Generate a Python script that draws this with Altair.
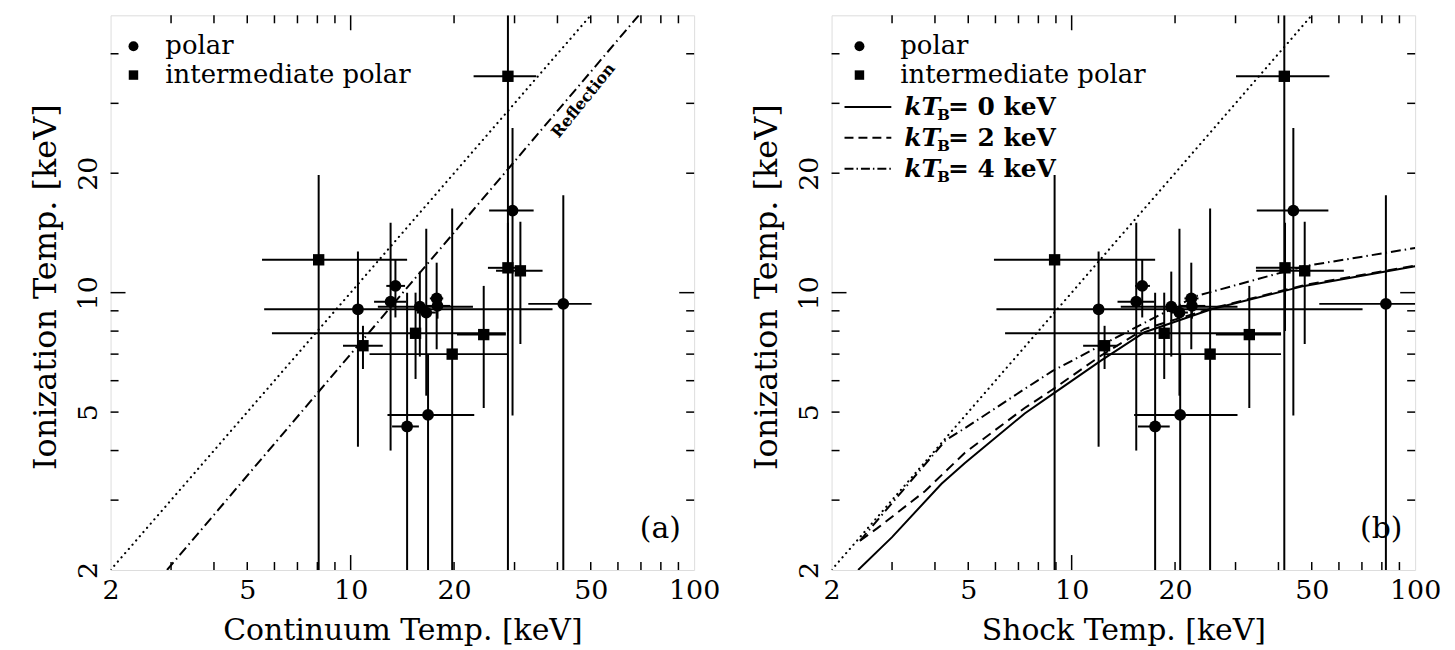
import altair as alt
import pandas as pd

# ---------------- data ----------------
kind = ["IP", "polar", "IP", "polar", "polar", "polar", "polar", "polar", "polar", "IP",
        "IP", "IP", "polar", "polar", "IP", "polar", "IP", "IP", "polar"]
t_ion = [12.1, 9.08, 7.35, 9.49, 10.4, 9.22, 8.91, 9.67, 9.26, 7.9,
         7.0, 7.84, 4.92, 4.6, 35.1, 16.1, 11.55, 11.35, 9.37]
t_ion_lo = [2, 4.09, 6.42, 4.0, 8.66, 6.9, 5.5, 7.2, 8.6, 6.06,
            2, 5.12, 2, 2, 2, 4.9, 8.0, 7.42, 2]
t_ion_hi = [19.8, 12.7, 8.25, 15.0, 12.1, 11.3, 14.5, 11.9, 9.9, 10.0,
            16.3, 10.4, 7.0, 10.0, 50, 26.0, 15.0, 15.1, 17.6]

t_cont = [8.07, 10.5, 10.86, 13.07, 13.5, 15.9, 16.6, 17.8, 17.9, 15.45,
          19.75, 24.4, 16.8, 14.6, 28.7, 29.6, 28.7, 31.2, 41.6]
t_cont_lo = [5.52, 5.6, 9.5, 11.7, 12.7, 12.0, 15.6, 17.0, 16.5, 5.9,
             11.35, 20.4, 12.8, 13.2, 22.8, 25.3, 25.1, 26.5, 32.9]
t_cont_hi = [14.6, 38.7, 12.4, 14.5, 14.4, 22.7, 17.7, 18.6, 19.5, 28.3,
             28.7, 28.3, 22.9, 15.8, 34.7, 34.1, 30.5, 36.2, 50.3]

t_shock = [8.92, 11.98, 12.47, 15.42, 16.05, 19.5, 20.6, 22.3, 22.4, 18.6,
           25.3, 32.9, 20.7, 17.5, 41.6, 44.2, 41.8, 47.7, 82.2]
t_shock_lo = [5.94, 6.04, 10.8, 13.6, 15.3, 13.9, 19.5, 21.3, 20.5, 6.4,
              12.5, 26.3, 15.2, 15.6, 30.1, 34.6, 34.4, 34.4, 52.6]
t_shock_hi = [17.5, 70.3, 13.6, 17.4, 16.9, 30.4, 21.8, 23.4, 24.5, 40.7,
              40.7, 40.7, 30.4, 19.3, 56.3, 55.9, 46.5, 62, 100]

# reference lines
equal_x = [2, 50]
equal_y = [2, 50]
refl_x = [2.92, 69]
refl_y = [2, 50]

# model curves, panel (b)
curve0_x = [2.39, 3.0, 4.18, 4.89, 7.3, 8.8, 12.2, 16.3, 25.5, 47.6, 100]
curve0_y = [2.0, 2.42, 3.3, 3.72, 4.96, 5.55, 6.75, 7.95, 9.08, 10.4, 11.66]
curve2_x = [2.42, 2.72, 3.74, 4.89, 7.3, 8.8, 12.2, 16.3, 25.5, 47.6, 100]
curve2_y = [2.37, 2.55, 3.16, 3.95, 5.12, 5.7, 6.95, 8.1, 9.12, 10.45, 11.7]
curve4_x = [2.42, 3.0, 4.3, 4.9, 7.3, 8.8, 12.2, 23.0, 47.6, 100]
curve4_y = [2.37, 2.95, 4.25, 4.56, 5.72, 6.35, 7.37, 9.8, 11.66, 12.96]

# axis ticks / labels
x_labels = [2, 5, 10, 20, 50, 100]
y_labels = [2, 5, 10, 20]
minor_x = [3, 4, 5, 6, 7, 8, 9, 20, 30, 40, 50, 60, 70, 80, 90]
major_x = [10]
minor_y = [3, 4, 5, 6, 7, 8, 9, 20, 30, 40]
major_y = [10]

# ---------------- styling ----------------
FONT = "DejaVu Serif"
W, H = 586, 557
xs = alt.Scale(type="log", domain=[2, 100], nice=False)
ys = alt.Scale(type="log", domain=[2, 50], nice=False)
ONE = pd.DataFrame({"a": [0]})


def make_axes(xtitle):
    xaxis = alt.Axis(title=xtitle, values=x_labels, format="d", ticks=False, domain=False, grid=False,
                     labelFont=FONT, labelFontSize=27, labelColor="black", labelPadding=8,
                     labelFlush=False, labelOverlap=False, labelBound=False,
                     titleFont=FONT, titleFontSize=30, titleFontWeight="normal", titleColor="black",
                     titleY=61, titleBaseline="middle")
    yaxis = alt.Axis(title="Ionization Temp. [keV]", values=y_labels, format="d", ticks=False,
                     domain=False, grid=False,
                     labelFont=FONT, labelFontSize=27, labelColor="black", labelAngle=270,
                     labelAlign="center", labelBaseline="middle", labelPadding=22,
                     labelFlush=False, labelOverlap=False, labelBound=False,
                     titleFont=FONT, titleFontSize=32, titleFontWeight="normal", titleColor="black",
                     titleAngle=270, titleX=-65, titleY=H / 2 - 6, titleBaseline="middle", titleAlign="center")
    return xaxis, yaxis


def txt(s, x, y, size=26, weight="normal", style="normal", align="left"):
    return alt.Chart(ONE).mark_text(font=FONT, fontSize=size, fontWeight=weight, fontStyle=style,
                                    align=align, baseline="middle", color="black").encode(
        x=alt.value(x), y=alt.value(y), text=alt.value(s))


def panel(xtitle, xv, xlo, xhi, tag, extra, leg_mark_x, leg_text_x):
    xaxis, yaxis = make_axes(xtitle)

    def X(f):
        return alt.X(f"{f}:Q", scale=xs, axis=xaxis)

    def Y(f):
        return alt.Y(f"{f}:Q", scale=ys, axis=yaxis)

    df = pd.DataFrame({"x": xv, "xlo": xlo, "xhi": xhi, "y": t_ion,
                       "ylo": t_ion_lo, "yhi": t_ion_hi, "kind": kind})
    layers = []
    # inward ticks on all four sides
    for vals, ln in ((minor_x, 8), (major_x, 15)):
        base = alt.Chart(pd.DataFrame({"v": vals})).mark_rule(color="black", strokeWidth=1.5)
        layers.append(base.encode(x=X("v"), y=alt.value(H), y2=alt.value(H - ln)))
        layers.append(base.encode(x=X("v"), y=alt.value(0), y2=alt.value(ln)))
    for vals, ln in ((minor_y, 8), (major_y, 15)):
        base = alt.Chart(pd.DataFrame({"v": vals})).mark_rule(color="black", strokeWidth=1.5)
        layers.append(base.encode(y=Y("v"), x=alt.value(0), x2=alt.value(ln)))
        layers.append(base.encode(y=Y("v"), x=alt.value(W), x2=alt.value(W - ln)))

    # dotted equality line
    layers.append(alt.Chart(pd.DataFrame({"x": equal_x, "y": equal_y})).mark_line(
        color="black", strokeWidth=2.2, strokeDash=[0.1, 5.5], strokeCap="round", clip=True).encode(
        x=X("x"), y=Y("y")))
    layers += extra(X, Y)

    # error bars
    bars = alt.Chart(df).mark_rule(color="black", strokeWidth=2, clip=True)
    layers.append(bars.encode(x=X("xlo"), x2="xhi:Q", y=Y("y")))
    layers.append(bars.encode(x=X("x"), y=Y("ylo"), y2="yhi:Q"))
    # points
    layers.append(alt.Chart(df).transform_filter(alt.datum.kind == "polar").mark_point(
        shape="circle", filled=True, color="black", opacity=1, size=140).encode(x=X("x"), y=Y("y")))
    layers.append(alt.Chart(df).transform_filter(alt.datum.kind == "IP").mark_point(
        shape="square", filled=True, color="black", opacity=1, size=130).encode(x=X("x"), y=Y("y")))

    # legend for symbols
    layers.append(alt.Chart(ONE).mark_point(shape="circle", filled=True, color="black", opacity=1,
                                            size=100).encode(x=alt.value(leg_mark_x), y=alt.value(31)))
    layers.append(alt.Chart(ONE).mark_point(shape="square", filled=True, color="black", opacity=1,
                                            size=90).encode(x=alt.value(leg_mark_x), y=alt.value(60)))
    layers.append(txt("polar", leg_text_x, 31))
    layers.append(txt("intermediate polar", leg_text_x, 60))
    layers.append(txt(tag, W - 34, H - 41, size=30, align="center"))
    return alt.layer(*layers).properties(width=W, height=H)


def extra_a(X, Y):
    out = [alt.Chart(pd.DataFrame({"x": refl_x, "y": refl_y})).mark_line(
        color="black", strokeWidth=2, strokeDash=[10, 4, 1.5, 4], clip=True).encode(x=X("x"), y=Y("y"))]
    out.append(alt.Chart(pd.DataFrame({"x": [47.6], "y": [30.5], "t": ["Reflection"]})).mark_text(
        font=FONT, fontSize=16, fontWeight="bold", angle=309, align="center", baseline="middle",
        color="black").encode(x=X("x"), y=Y("y"), text="t:N"))
    return out


def extra_b(X, Y):
    out = []
    specs = [(curve0_x, curve0_y, None), (curve2_x, curve2_y, [10, 6]), (curve4_x, curve4_y, [10, 4, 1.5, 4])]
    for cx, cy, dash in specs:
        kw = dict(color="black", strokeWidth=2, clip=True)
        if dash:
            kw["strokeDash"] = dash
        out.append(alt.Chart(pd.DataFrame({"x": cx, "y": cy})).mark_line(**kw).encode(x=X("x"), y=Y("y")))
    # line legend
    for i, (val, dash) in enumerate([("0", None), ("2", [9, 5]), ("4", [9, 3, 1.5, 3])]):
        yy = 92 + 31 * i
        kw = dict(color="black", strokeWidth=2)
        if dash:
            kw["strokeDash"] = dash
        out.append(alt.Chart(ONE).mark_rule(**kw).encode(x=alt.value(13), x2=alt.value(60), y=alt.value(yy)))
        out.append(txt("kT", 73, yy, size=25, weight="bold", style="italic"))
        out.append(txt("B", 106, yy + 8, size=15, weight="bold"))
        out.append(txt("= " + val + " keV", 117, yy, size=25, weight="bold"))
    return out


pa = panel("Continuum Temp. [keV]", t_cont, t_cont_lo, t_cont_hi, "(a)", extra_a, 23, 55)
pb = panel("Shock Temp. [keV]", t_shock, t_shock_lo, t_shock_hi, "(b)", extra_b, 28, 69)

chart = alt.hconcat(pa, pb, spacing=29).properties(
    padding={"left": 21, "top": 4, "right": 5, "bottom": 5}
).configure_view(stroke="black", strokeWidth=2).configure(background="white")

chart.save("out.html", embed_options={"renderer": "svg", "actions": False})
